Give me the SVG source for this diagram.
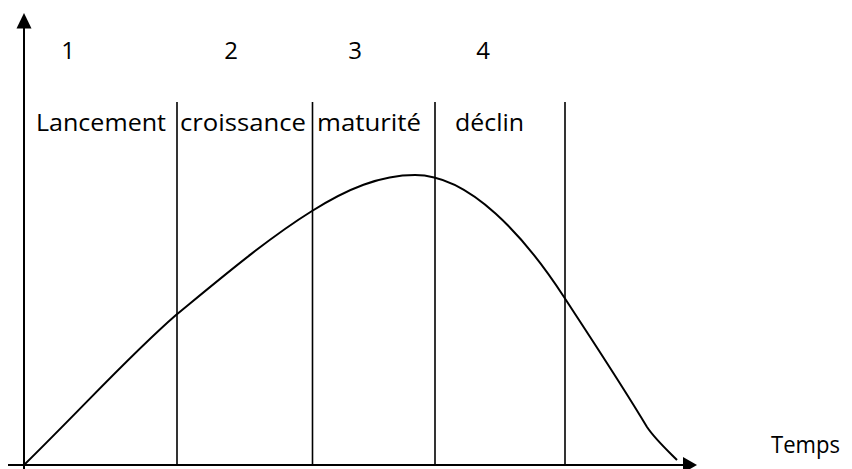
<svg xmlns="http://www.w3.org/2000/svg" width="852" height="469" viewBox="0 0 852 469">
<style>
.t{font-family:"Open Sans","Liberation Sans",sans-serif;font-size:24px;fill:#000}
.ax{stroke:#000;stroke-width:2;fill:none}
.dv{stroke:#000;stroke-width:1.6;fill:none}
.cv{stroke:#000;stroke-width:2;fill:none}
</style>
<rect width="852" height="469" fill="#fff"/>
<g id="axes">
<line class="ax" x1="24" y1="469" x2="24" y2="27"/>
<polygon points="24,13 16.5,28.5 31.5,28.5" fill="#000"/>
<line class="ax" x1="8" y1="465" x2="685" y2="465"/>
<polygon points="697,465 683,457 683,473" fill="#000"/>
</g>
<g id="dividers">
<line class="dv" x1="177" y1="102" x2="177" y2="465"/>
<line class="dv" x1="312.5" y1="102" x2="312.5" y2="465"/>
<line class="dv" x1="435" y1="102" x2="435" y2="465"/>
<line class="dv" x1="565" y1="102" x2="565" y2="465"/>
</g>
<g id="curve">
<path class="cv" d="M24,465 C90,400 130,355 176,315 C221,278 267,239 312,211 C347,189 380,175 415,175 C470,175 525,237 564,297 C592,340 620,382 647,427 C655,439 668,451 677,460"/>
</g>
<g id="numbers">
<text class="t" x="68" y="59" text-anchor="middle">1</text>
<text class="t" x="231" y="59" text-anchor="middle">2</text>
<text class="t" x="355" y="59" text-anchor="middle">3</text>
<text class="t" x="483" y="59" text-anchor="middle">4</text>
</g>
<g id="labels">
<text class="t" x="36" y="131" textLength="130" lengthAdjust="spacingAndGlyphs">Lancement</text>
<text class="t" x="180" y="131" textLength="126" lengthAdjust="spacingAndGlyphs">croissance</text>
<text class="t" x="317" y="131" textLength="104" lengthAdjust="spacingAndGlyphs">maturité</text>
<text class="t" x="455" y="131" textLength="69" lengthAdjust="spacingAndGlyphs">déclin</text>
<text class="t" x="771" y="453" textLength="69" lengthAdjust="spacingAndGlyphs">Temps</text>
</g>
</svg>
